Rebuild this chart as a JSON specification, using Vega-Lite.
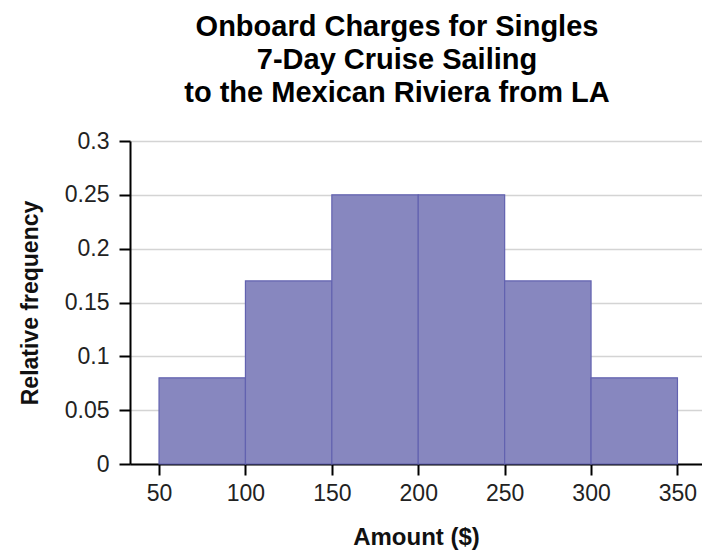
{
  "$schema": "https://vega.github.io/schema/vega-lite/v6.json",
  "autosize": {"type": "none"},
  "width": 572,
  "height": 323,
  "padding": {"left": 130, "top": 141, "right": 0, "bottom": 92},
  "background": "white",
  "title": {
    "text": ["Onboard Charges for Singles", "7-Day Cruise Sailing", "to the Mexican Riviera from LA"],
    "font": "Liberation Sans",
    "fontSize": 29,
    "fontWeight": "bold",
    "color": "#000000",
    "lineHeight": 33,
    "anchor": "middle",
    "dx": -19,
    "offset": 22
  },
  "data": {
    "values": [
      {"bin_start": 50, "bin_end": 100, "freq": 0.08},
      {"bin_start": 100, "bin_end": 150, "freq": 0.17},
      {"bin_start": 150, "bin_end": 200, "freq": 0.25},
      {"bin_start": 200, "bin_end": 250, "freq": 0.25},
      {"bin_start": 250, "bin_end": 300, "freq": 0.17},
      {"bin_start": 300, "bin_end": 350, "freq": 0.08}
    ]
  },
  "mark": {"type": "rect", "fill": "#8787bf", "stroke": "#6262b0", "strokeWidth": 1.2},
  "encoding": {
    "x": {
      "field": "bin_start",
      "type": "quantitative",
      "scale": {"domain": [33.2, 364.2], "nice": false, "zero": false},
      "axis": {
        "title": "Amount ($)",
        "values": [50, 100, 150, 200, 250, 300, 350],
        "grid": false,
        "labelPadding": 7,
        "titleFontSize": 24,
        "titlePadding": 20
      }
    },
    "x2": {"field": "bin_end"},
    "y": {
      "field": "freq",
      "type": "quantitative",
      "scale": {"domain": [0, 0.3], "nice": false},
      "axis": {
        "title": "Relative frequency",
        "values": [0, 0.05, 0.1, 0.15, 0.2, 0.25, 0.3],
        "format": "~g",
        "grid": true,
        "labelPadding": 10,
        "titleFontSize": 23,
        "titlePadding": 22
      }
    }
  },
  "config": {
    "view": {"stroke": null},
    "axis": {
      "labelFont": "Liberation Sans",
      "labelFontSize": 23,
      "labelColor": "#222222",
      "titleFont": "Liberation Sans",
      "titleFontWeight": "bold",
      "titleColor": "#111111",
      "domainColor": "#000000",
      "domainWidth": 2,
      "tickColor": "#000000",
      "tickWidth": 2,
      "tickSize": 11,
      "gridColor": "#d4d4d4",
      "gridWidth": 1.5
    }
  }
}
